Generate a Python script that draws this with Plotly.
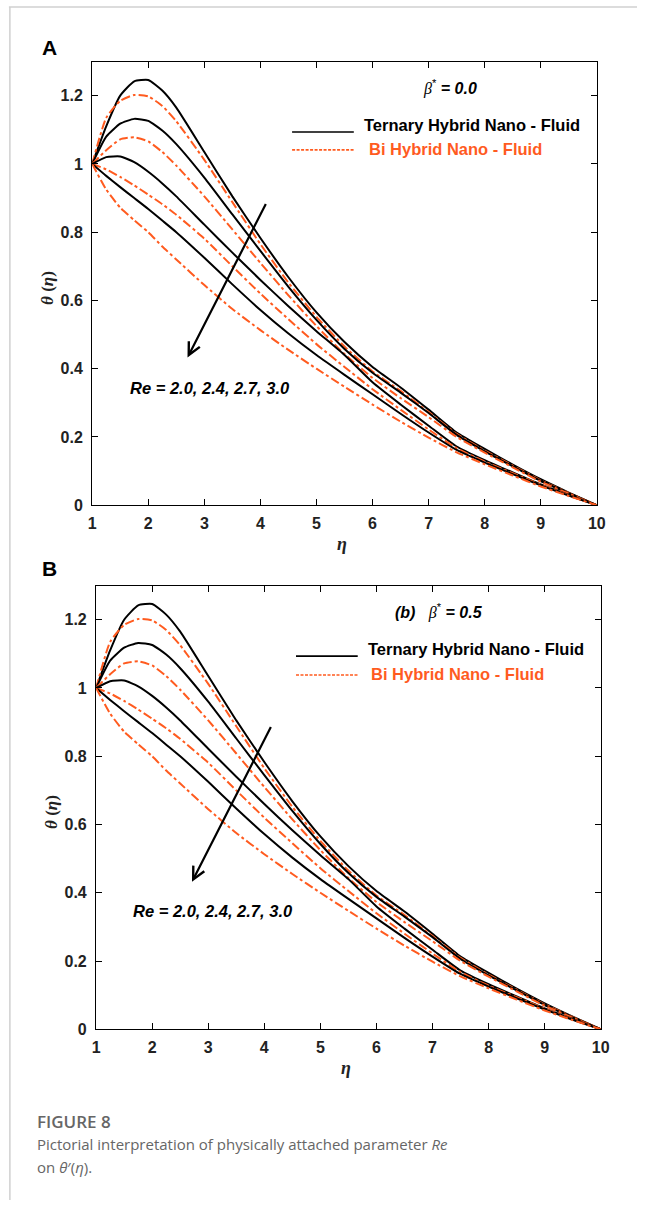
import plotly.graph_objects as go

# ---------------- data ----------------
eta = [1, 1.25, 1.5, 1.75, 2, 2.25, 2.5, 3, 3.5, 4, 4.5, 5, 5.5, 6, 6.5, 7, 7.5, 8, 8.5, 9, 9.5, 10]
re_values = ["2.0", "2.4", "2.7", "3.0"]

# Ternary hybrid nano-fluid (solid black)
ternary_re_2_0 = [1.0, 1.11, 1.20, 1.242, 1.246, 1.215, 1.165, 1.035, 0.905, 0.783, 0.668, 0.565, 0.478, 0.405, 0.345, 0.280, 0.213, 0.165, 0.119, 0.076, 0.037, 0.0]
ternary_re_2_4 = [1.0, 1.08, 1.118, 1.132, 1.126, 1.098, 1.058, 0.960, 0.852, 0.745, 0.640, 0.543, 0.458, 0.388, 0.330, 0.270, 0.206, 0.158, 0.114, 0.071, 0.035, 0.0]
ternary_re_2_7 = [1.0, 1.02, 1.022, 1.005, 0.977, 0.943, 0.905, 0.822, 0.740, 0.660, 0.583, 0.510, 0.440, 0.360, 0.295, 0.233, 0.172, 0.132, 0.096, 0.061, 0.030, 0.0]
ternary_re_3_0 = [1.0, 0.965, 0.932, 0.900, 0.868, 0.834, 0.800, 0.725, 0.647, 0.572, 0.503, 0.440, 0.382, 0.325, 0.268, 0.213, 0.162, 0.125, 0.091, 0.058, 0.028, 0.0]

# Bi hybrid nano-fluid (orange dash-dot)
bi_re_2_0 = [1.0, 1.135, 1.185, 1.202, 1.198, 1.170, 1.125, 1.012, 0.888, 0.765, 0.652, 0.552, 0.465, 0.392, 0.335, 0.273, 0.209, 0.160, 0.116, 0.073, 0.036, 0.0]
bi_re_2_4 = [1.0, 1.04, 1.072, 1.078, 1.066, 1.035, 0.995, 0.905, 0.808, 0.710, 0.615, 0.525, 0.443, 0.373, 0.314, 0.258, 0.200, 0.154, 0.111, 0.069, 0.034, 0.0]
bi_re_2_7 = [1.0, 0.984, 0.962, 0.937, 0.910, 0.882, 0.851, 0.781, 0.700, 0.620, 0.545, 0.472, 0.405, 0.340, 0.280, 0.222, 0.167, 0.128, 0.094, 0.060, 0.029, 0.0]
bi_re_3_0 = [1.0, 0.925, 0.872, 0.835, 0.800, 0.758, 0.720, 0.645, 0.575, 0.513, 0.455, 0.400, 0.347, 0.295, 0.245, 0.198, 0.155, 0.120, 0.087, 0.055, 0.027, 0.0]

ternary_series = [ternary_re_2_0, ternary_re_2_4, ternary_re_2_7, ternary_re_3_0]
bi_series = [bi_re_2_0, bi_re_2_4, bi_re_2_7, bi_re_3_0]

x_ticks = [1, 2, 3, 4, 5, 6, 7, 8, 9, 10]
y_ticks = [0, 0.2, 0.4, 0.6, 0.8, 1.0, 1.2]
y_tick_text = ["0", "0.2", "0.4", "0.6", "0.8", "1", "1.2"]
beta_labels = ["0.0", "0.5"]

# ---------------- styling ----------------
W, H = 646, 1209
BLACK = "#000000"
ORANGE = "#FF5B1F"
SANS = "Liberation Sans, Arial, sans-serif"
SERIF = "Liberation Serif, Times New Roman, serif"


def px(x):
    return x / W


def py(y):
    return 1 - y / H


fig = go.Figure()

panels = [
    # (xaxis id, yaxis id, x-domain px, y-domain px)
    ("x", "y", (90, 605), (62, 509)),
    ("x2", "y2", (94, 609), (590, 1037)),
]

for xa, ya, _, _ in panels:
    for ter, bi in zip(ternary_series, bi_series):
        fig.add_trace(go.Scatter(x=eta, y=ter, mode="lines", xaxis=xa, yaxis=ya,
                                 line=dict(color=BLACK, width=2, shape="spline", smoothing=0.5),
                                 showlegend=False, hoverinfo="skip"))
        fig.add_trace(go.Scatter(x=eta, y=bi, mode="lines", xaxis=xa, yaxis=ya,
                                 line=dict(color=ORANGE, width=2, dash="dashdot", shape="spline", smoothing=0.5),
                                 showlegend=False, hoverinfo="skip"))

axis_common = dict(showline=True, linecolor="black", linewidth=1.3, mirror="ticks",
                   ticks="inside", ticklen=6, tickwidth=1.2, tickcolor="black",
                   showgrid=False, zeroline=False,
                   tickfont=dict(family=SANS, size=16, color="#222222", weight="bold"))

layout = dict(width=W, height=H, margin=dict(l=0, r=0, t=0, b=0),
              paper_bgcolor="white", plot_bgcolor="white", showlegend=False)

for i, (xa, ya, (x0, x1), (y0, y1)) in enumerate(panels):
    xkey = "xaxis" if xa == "x" else "xaxis2"
    ykey = "yaxis" if ya == "y" else "yaxis2"
    layout[xkey] = dict(domain=[px(x0), px(x1)], anchor=ya, range=[1, 10],
                        tickvals=x_ticks, ticklabelstandoff=3, **axis_common)
    layout[ykey] = dict(domain=[py(y1), py(y0)], anchor=xa, range=[0, 1.3],
                        tickvals=y_ticks, ticktext=y_tick_text, ticklabelstandoff=5, **axis_common)

fig.update_layout(**layout)

annotations = []
shapes = []


def note(x, y, text, font, xanchor="center", yanchor="middle", **kw):
    d = dict(x=x, y=y, xref=kw.pop("xref", "paper"), yref=kw.pop("yref", "paper"), text=text,
             showarrow=False, font=font, xanchor=xanchor, yanchor=yanchor)
    d.update(kw)
    annotations.append(d)


# panel letters
note(px(46), py(48), "<b>A</b>", dict(family=SANS, size=21, color="black"))
note(px(46), py(573), "<b>B</b>", dict(family=SANS, size=21, color="black"))

panel_text = [
    dict(beta=(455, 88), leg_y=(133, 151), leg_x=(294, 357), txt_x=(365, 370), yax=(45, 290), xl=(345, 548),
         arrow=(4.11, 0.887, 2.70, 0.433), re=(3.1, 0.343), prefix=""),
    dict(beta=(444, 616), leg_y=(661, 680), leg_x=(298, 361), txt_x=(369, 373), yax=(49, 818), xl=(349, 1076),
         arrow=(4.13, 0.89, 2.71, 0.432), re=(3.08, 0.348), prefix="<b><i>(b)</i></b>   "),
]

for (xa, ya, _, _), pt, beta in zip(panels, panel_text, beta_labels):
    # beta label
    note(px(pt["beta"][0]), py(pt["beta"][1]),
         pt["prefix"] + "<span style='font-family:Liberation Serif'><i>β</i></span><sup>*</sup><b><i> = " + beta + "</i></b>",
         dict(family=SANS, size=16, color="black"))
    # legend lines
    shapes.append(dict(type="line", xref="paper", yref="paper",
                       x0=px(pt["leg_x"][0]), x1=px(pt["leg_x"][1]),
                       y0=py(pt["leg_y"][0]), y1=py(pt["leg_y"][0]),
                       line=dict(color="black", width=1.6)))
    shapes.append(dict(type="line", xref="paper", yref="paper",
                       x0=px(pt["leg_x"][0]), x1=px(pt["leg_x"][1]),
                       y0=py(pt["leg_y"][1]), y1=py(pt["leg_y"][1]),
                       line=dict(color=ORANGE, width=1.6, dash="3px,1.5px")))
    note(px(pt["txt_x"][0]), py(pt["leg_y"][0] - 7), "<b>Ternary Hybrid Nano - Fluid</b>",
         dict(family=SANS, size=16.5, color="black"), xanchor="left")
    note(px(pt["txt_x"][1]), py(pt["leg_y"][1] - 1), "<b>Bi Hybrid Nano - Fluid</b>",
         dict(family=SANS, size=16.5, color=ORANGE), xanchor="left")
    # axis titles
    note(px(pt["yax"][0]), py(pt["yax"][1]), "<b><i>θ</i> (<i>η</i>)</b>",
         dict(family=SERIF, size=17, color="#222222"), textangle=-90)
    note(px(pt["xl"][0]), py(pt["xl"][1]), "<b><i>η</i></b>",
         dict(family=SERIF, size=18, color="#222222"))
    # arrow
    ax0, ay0, hx, hy = pt["arrow"]
    annotations.append(dict(x=hx, y=hy, ax=ax0, ay=ay0, xref=xa, yref=ya, axref=xa, ayref=ya,
                            text="", showarrow=True, arrowhead=5, arrowsize=1.1, arrowwidth=2.2,
                            arrowcolor="black"))
    # Re text
    note(pt["re"][0], pt["re"][1], "<b><i>Re = " + ", ".join(re_values) + "</i></b>",
         dict(family=SANS, size=16.5, color="black"), xref=xa, yref=ya)

# caption
note(px(32), py(1130), "FIGURE 8", dict(family="Open Sans", size=17, color="#666666", weight=600),
     xanchor="left")
note(px(32), py(1153), "Pictorial interpretation of physically attached parameter <i>Re</i>",
     dict(family="Open Sans", size=15, color="#666666"), xanchor="left")
note(px(32), py(1176), "on <i>θ</i>′(<i>η</i>).", dict(family="Open Sans", size=15, color="#666666"),
     xanchor="left")

# card border
shapes.append(dict(type="line", xref="paper", yref="paper", x0=px(5), x1=1, y0=py(7), y1=py(7),
                   line=dict(color="#D0D0D0", width=1.5)))
shapes.append(dict(type="line", xref="paper", yref="paper", x0=px(6), x1=px(6), y0=py(7), y1=0,
                   line=dict(color="#D0D0D0", width=1.5)))

fig.update_layout(annotations=annotations, shapes=shapes)
fig.write_html("out.html", config={"displayModeBar": False},
               post_script="document.body.style.margin='0';document.body.style.padding='0';document.body.style.overflow='hidden';")
